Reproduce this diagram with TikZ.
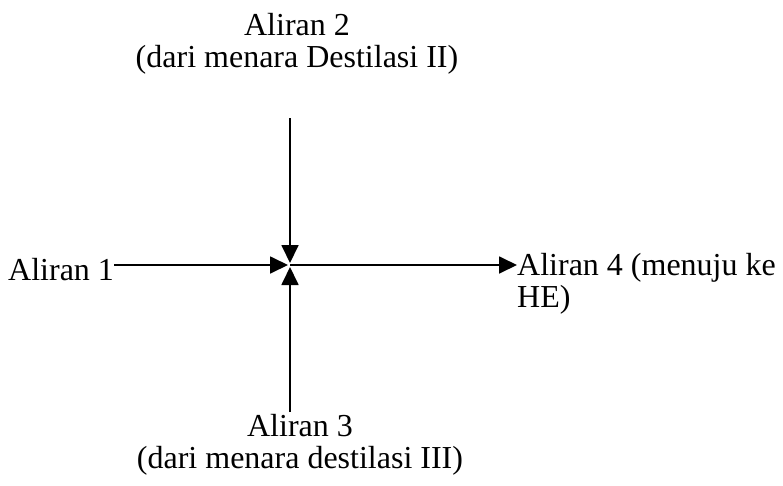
\documentclass[tikz,border=0pt]{standalone}
\usepackage{fontspec}
\setmainfont{Liberation Serif}
\usetikzlibrary{arrows.meta}
\begin{document}
\begin{tikzpicture}[x=1pt,y=1pt,
  lbl/.style={inner sep=0pt,font=\fontsize{32}{32}\selectfont},
  flow/.style={line width=1.8pt,-{Triangle[length=18pt,width=17pt]}}]
\useasboundingbox (0,0) rectangle (783,-485);
\node[lbl,anchor=north,align=center] (a2) at (297,-13) {Aliran 2\\(dari menara Destilasi II)};
\node[lbl,anchor=north,align=center] (a3) at (300,-414) {Aliran 3\\(dari menara destilasi III)};
\node[lbl,anchor=base west] (a1) at (8,-280) {Aliran 1};
\node[lbl,anchor=north west,align=left] (a4) at (517,-253) {Aliran 4 (menuju ke\\HE)};
\coordinate (c) at (290,-265);
\coordinate (t2) at (290,-118);
\coordinate (t3) at (290,-412);
\draw[flow,shorten >=2pt] (t2) -- (c);
\draw[flow,shorten >=2pt] (t3) -- (c);
\draw[flow,shorten >=2pt] (a1.east|-c) -- (c);
\draw[flow] (c) -- (a4.west|-c);
\end{tikzpicture}
\end{document}
